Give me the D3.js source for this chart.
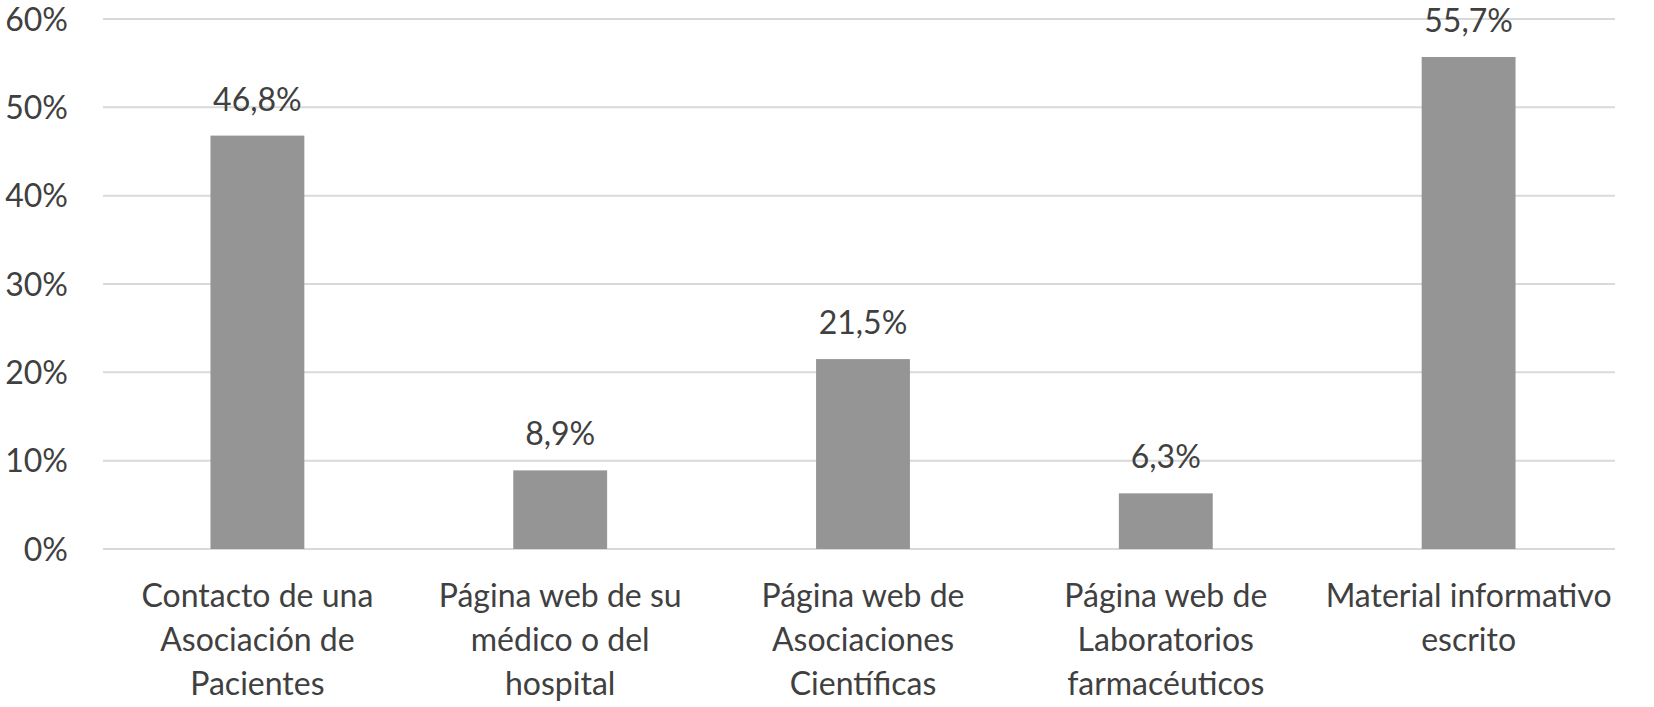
<!DOCTYPE html>
<html><head><meta charset="utf-8">
<script src="https://cdn.jsdelivr.net/npm/d3@7"></script>
<style>body{margin:0;background:#fff;} text{font-family:Lato,"Open Sans",sans-serif;fill:#404040;}</style>
</head><body>
<svg id="c" width="1654" height="707"></svg>
<script>
const categories = [
  ["Contacto de una","Asociación de","Pacientes"],
  ["Página web de su","médico o del","hospital"],
  ["Página web de","Asociaciones","Científicas"],
  ["Página web de","Laboratorios","farmacéuticos"],
  ["Material informativo","escrito"]
];
const values = [46.8, 8.9, 21.5, 6.3, 55.7];
const valueLabels = ["46,8%","8,9%","21,5%","6,3%","55,7%"];
const yTicks = [0,10,20,30,40,50,60];

const FS = "32px";
const svg = d3.select("#c");
const gridLeft = 103, gridRight = 1615;
const y = d3.scaleLinear().domain([0,60]).range([549,19]);
const x = d3.scaleBand().domain(d3.range(values.length)).range([106,1620]).paddingInner(0.69).paddingOuter(0.345);

svg.append("g").selectAll("line").data(yTicks).join("line")
  .attr("x1",gridLeft).attr("x2",gridRight)
  .attr("y1",d=>y(d)).attr("y2",d=>y(d))
  .attr("stroke","#d9d9d9").attr("stroke-width",2);

const yAxis = d3.axisLeft(y).tickValues(yTicks).tickFormat(d=>d+"%").tickSize(0).tickPadding(0);
const ga = svg.append("g").attr("transform","translate(68,0)").call(yAxis);
ga.select(".domain").remove();
ga.selectAll("text").style("font-size",FS).style("font-family","Lato,'Open Sans',sans-serif").attr("fill","#404040").attr("dy","0.35em");

svg.append("g").selectAll("rect").data(values).join("rect")
  .attr("x",(d,i)=>x(i)).attr("width",x.bandwidth())
  .attr("y",d=>y(d)).attr("height",d=>y(0)-y(d))
  .attr("fill","#959595");

svg.append("g").selectAll("text").data(values).join("text")
  .attr("x",(d,i)=>x(i)+x.bandwidth()/2).attr("y",d=>y(d)-25)
  .attr("text-anchor","middle").style("font-size",FS)
  .text((d,i)=>valueLabels[i]);

const cg = svg.append("g").selectAll("text").data(categories).join("text")
  .attr("text-anchor","middle").style("font-size",FS)
  .attr("x",(d,i)=>x(i)+x.bandwidth()/2);
cg.selectAll("tspan").data(d=>d).join("tspan")
  .attr("x",function(){return this.parentNode.getAttribute("x");})
  .attr("y",(d,j)=>607+j*44)
  .text(d=>d);
</script>
</body></html>
